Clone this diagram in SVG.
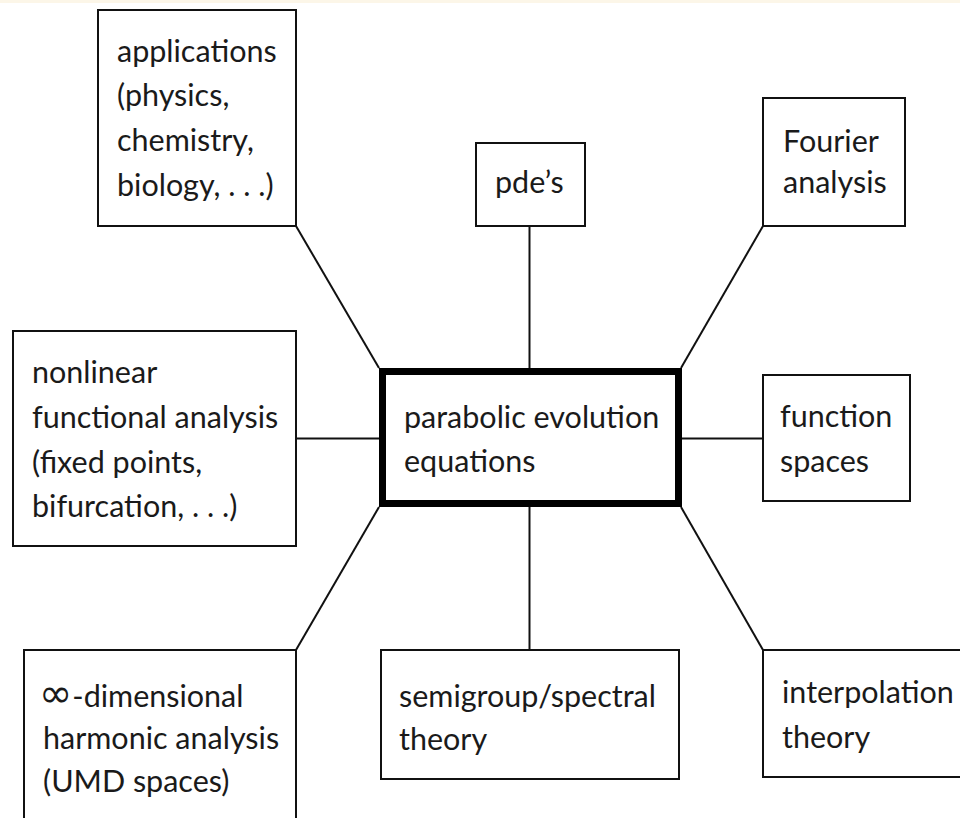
<svg xmlns="http://www.w3.org/2000/svg" width="960" height="818" viewBox="0 0 960 818">
<style>
.box{fill:#fff;stroke:#111;stroke-width:2}
.main{fill:#fff;stroke:#000;stroke-width:7}
.c{stroke:#111;stroke-width:2;fill:none}
text{font-family:Lato,"Open Sans",sans-serif;font-size:30.5px;fill:#1a1a1a}
.inf{font-family:"DejaVu Sans",sans-serif;font-size:40px}
</style>
<rect x="0" y="0" width="960" height="818" fill="#fff"/>
<rect x="0" y="0" width="960" height="3" fill="#fcf6e8"/>
<g id="connectors">
<line class="c" x1="296" y1="226" x2="379" y2="368"/>
<line class="c" x1="529.5" y1="226" x2="529.5" y2="368"/>
<line class="c" x1="763" y1="226" x2="681" y2="368"/>
<line class="c" x1="296" y1="438.5" x2="379" y2="438.5"/>
<line class="c" x1="682" y1="438.5" x2="763" y2="438.5"/>
<line class="c" x1="379" y1="507" x2="296" y2="650"/>
<line class="c" x1="529.5" y1="507" x2="529.5" y2="650"/>
<line class="c" x1="681" y1="507" x2="763" y2="650"/>
</g>
<g id="applications">
<rect class="box" x="98" y="10" width="198" height="216"/>
<text x="117" y="62">applications</text>
<text x="117" y="106">(physics,</text>
<text x="117" y="151">chemistry,</text>
<text x="117" y="196">biology, . . .)</text>
</g>
<g id="pdes">
<rect class="box" x="476" y="143" width="109" height="83"/>
<text x="495" y="193">pde’s</text>
</g>
<g id="fourier">
<rect class="box" x="763" y="98" width="142" height="128"/>
<text x="783" y="152">Fourier</text>
<text x="783" y="193">analysis</text>
</g>
<g id="nonlinear">
<rect class="box" x="13" y="331" width="283" height="215"/>
<text x="32" y="383">nonlinear</text>
<text x="32" y="428">functional analysis</text>
<text x="32" y="473">(fixed points,</text>
<text x="32" y="517">bifurcation, . . .)</text>
</g>
<g id="parabolic">
<rect class="main" x="382.5" y="371.5" width="296" height="132"/>
<text x="404" y="428">parabolic evolution</text>
<text x="404" y="472">equations</text>
</g>
<g id="function-spaces">
<rect class="box" x="763" y="375" width="147" height="126"/>
<text x="780" y="427">function</text>
<text x="780" y="472">spaces</text>
</g>
<g id="infinite-dim">
<rect class="box" x="24" y="650" width="272" height="200"/>
<text x="39" y="707"><tspan class="inf">∞</tspan>-dimensional</text>
<text x="43" y="749">harmonic analysis</text>
<text x="43" y="792">(UMD spaces)</text>
</g>
<g id="semigroup">
<rect class="box" x="381" y="650" width="298" height="129"/>
<text x="399" y="707">semigroup/spectral</text>
<text x="399" y="750">theory</text>
</g>
<g id="interpolation">
<rect class="box" x="763" y="650" width="230" height="127"/>
<text x="782" y="703">interpolation</text>
<text x="782" y="748">theory</text>
</g>
</svg>
